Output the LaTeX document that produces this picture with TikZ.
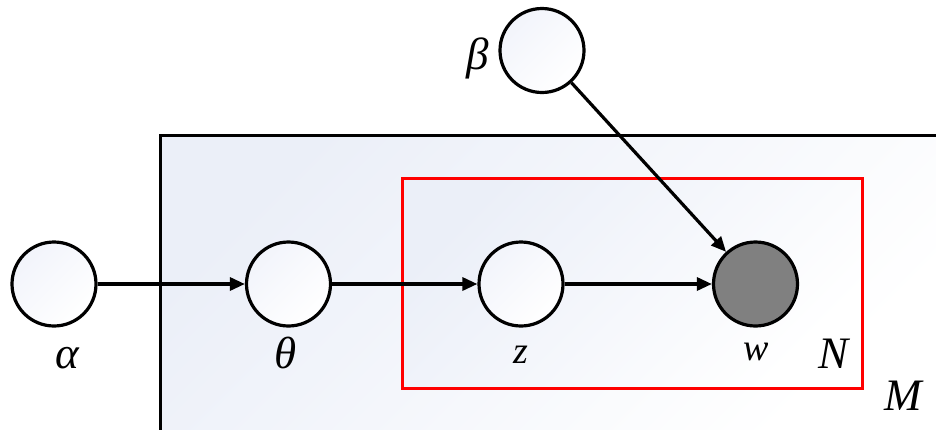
\documentclass[tikz,border=0pt]{standalone}
\usepackage{fontspec}
\setmainfont{Liberation Serif}
\newfontfamily\tnr{Liberation Serif}[ItalicFont={Liberation Serif Italic}]
\usetikzlibrary{arrows.meta}
\definecolor{bgblue}{RGB}{235,239,248}
\definecolor{cblue}{RGB}{242,244,251}
\definecolor{wgray}{RGB}{128,128,128}
\begin{document}
\begin{tikzpicture}[x=1pt,y=-1pt,
  var/.style={circle, draw, line width=3.2pt, minimum size=84pt, inner sep=0pt, top color=cblue, bottom color=white, shading angle=45},
  obs/.style={circle, draw, line width=3.2pt, minimum size=84pt, inner sep=0pt, fill=wgray},
  lbl/.style={font=\tnr\itshape\fontsize{45}{50}\selectfont, inner sep=0pt, anchor=base},
  slbl/.style={font=\tnr\itshape\fontsize{38}{44}\selectfont, inner sep=0pt, anchor=base},
  edge/.style={line width=3.2pt, -{Triangle[length=15pt,width=13pt]}},
  plate/.style={top color=bgblue, bottom color=white, shading angle=45}]
\useasboundingbox (0,0) rectangle (936,429);
\begin{scope}
  \clip (0,0) rectangle (936,429);
  \shade[plate] (160.5,135.5) rectangle (936,429);
  \draw[line width=3.2pt] (160.5,135.5) rectangle (990,490);
\end{scope}
\shade[plate] (402,178) rectangle (862,388.5);
\draw[red, line width=3pt] (402,178) rectangle (862,388.5);
\node[var] (alpha) at (54,284) {};
\node[var] (theta) at (288.5,284) {};
\node[var] (z) at (521,284) {};
\node[obs] (w) at (755.5,284) {};
\node[var] (beta) at (542,50.5) {};
\node[lbl] (la) at (67,368) {α};
\node[lbl] (lt) at (286,368) {θ};
\node[slbl] (lz) at (521,363) {z};
\node[slbl] (lw) at (756,360) {w};
\node[lbl] (lN) at (833,368) {N};
\node[lbl] (lM) at (903,410) {M};
\node[lbl] (lb) at (478,69) {β};
\draw[edge] (alpha) -- (theta);
\draw[edge] (theta) -- (z);
\draw[edge] (z) -- (w);
\draw[edge] (beta) -- (w);
\end{tikzpicture}
\end{document}
